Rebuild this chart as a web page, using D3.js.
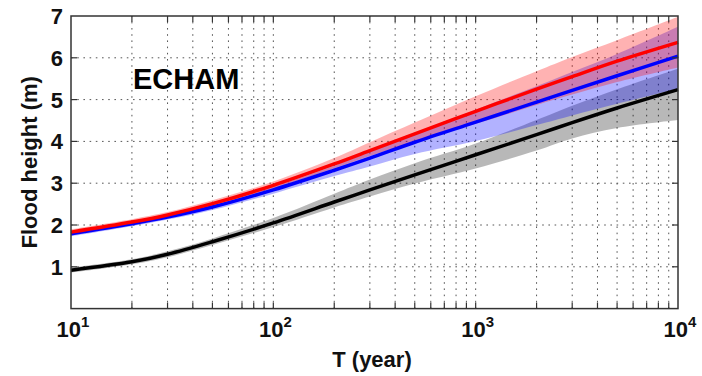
<!DOCTYPE html>
<html>
<head>
<meta charset="utf-8">
<script src="https://cdn.jsdelivr.net/npm/d3@7"></script>
<style>
  html, body { margin: 0; padding: 0; background: #fff; }
  svg { display: block; font-family: "Liberation Sans", Arial, Helvetica, sans-serif; }
</style>
</head>
<body>
<svg id="chart" width="702" height="376"></svg>
<script>
// Return period (years) at which the curves are sampled
const returnPeriods = [10, 20, 30, 50, 100, 200, 300, 500, 1000, 2000, 3000, 5000, 10000];

// Flood height (m): median and uncertainty band for each series
const redMedian = [1.83, 2.07, 2.24, 2.51, 2.95, 3.46, 3.78, 4.18, 4.72, 5.25, 5.55, 5.92, 6.37];
const redLower  = [1.76, 2.00, 2.17, 2.44, 2.87, 3.36, 3.65, 4.00, 4.42, 4.87, 5.12, 5.42, 5.77];
const redUpper  = [1.90, 2.14, 2.31, 2.59, 3.04, 3.60, 3.98, 4.45, 5.08, 5.68, 6.02, 6.42, 6.98];

const blueMedian = [1.79, 2.03, 2.19, 2.43, 2.84, 3.31, 3.60, 3.98, 4.46, 4.94, 5.22, 5.57, 6.04];
const blueLower  = [1.73, 1.97, 2.13, 2.36, 2.75, 3.17, 3.40, 3.70, 4.01, 4.39, 4.62, 4.90, 5.26];
const blueUpper  = [1.85, 2.09, 2.25, 2.50, 2.92, 3.42, 3.75, 4.18, 4.76, 5.32, 5.66, 6.09, 6.74];

const blackMedian = [0.92, 1.12, 1.30, 1.60, 2.05, 2.55, 2.84, 3.20, 3.68, 4.16, 4.45, 4.80, 5.24];
const blackLower  = [0.86, 1.06, 1.23, 1.52, 1.95, 2.42, 2.68, 2.99, 3.35, 3.78, 4.07, 4.32, 4.51];
const blackUpper  = [0.98, 1.18, 1.37, 1.68, 2.17, 2.75, 3.09, 3.48, 3.95, 4.51, 4.85, 5.25, 5.74];

const yTicks = [1, 2, 3, 4, 5, 6, 7];
const xMajorTicks = [10, 100, 1000, 10000];
const xMinorTicks = [20, 30, 40, 50, 60, 70, 80, 90,
                     200, 300, 400, 500, 600, 700, 800, 900,
                     2000, 3000, 4000, 5000, 6000, 7000, 8000, 9000];
const panelLabel = "ECHAM";
const xTitle = "T (year)";
const yTitle = "Flood height (m)";

const svg = d3.select("#chart");
const L = 71, R = 678, T = 16, B = 308.6;

const x = d3.scaleLog().domain([10, 10000]).range([L, R]);
const y = d3.scaleLinear().domain([0, 7]).range([B, T]);
const smooth = d3.curveCatmullRom.alpha(0.5);

// Dotted grid
const grid = svg.append("g").attr("stroke", "#555").attr("stroke-width", 1)
  .attr("stroke-dasharray", "1.6,4.6").attr("fill", "none");
grid.selectAll("line.v").data(xMinorTicks.concat([100, 1000])).join("line")
  .attr("x1", d => x(d)).attr("x2", d => x(d)).attr("y1", B).attr("y2", T);
grid.selectAll("line.h").data(yTicks.filter(v => v < 7)).join("line")
  .attr("x1", L).attr("x2", R).attr("y1", d => y(d)).attr("y2", d => y(d));

// Uncertainty bands
function band(lower, upper) {
  return d3.area()
    .x((d, i) => x(returnPeriods[i]))
    .y0((d, i) => y(lower[i]))
    .y1((d, i) => y(upper[i]))
    .curve(smooth)(returnPeriods);
}
const plot = svg.append("g");
plot.append("path").attr("d", band(blackLower, blackUpper)).attr("fill", "#000").attr("fill-opacity", 0.28);
plot.append("path").attr("d", band(blueLower, blueUpper)).attr("fill", "#0000ff").attr("fill-opacity", 0.3);
plot.append("path").attr("d", band(redLower, redUpper)).attr("fill", "#ff0000").attr("fill-opacity", 0.3);

// Median curves
function curve(values) {
  return d3.line()
    .x((d, i) => x(returnPeriods[i]))
    .y((d, i) => y(values[i]))
    .curve(smooth)(returnPeriods);
}
[[blackMedian, "#000"], [blueMedian, "#0000ff"], [redMedian, "#ff0000"]].forEach(([vals, col]) => {
  plot.append("path").attr("d", curve(vals)).attr("fill", "none")
    .attr("stroke", col).attr("stroke-width", 3.5).attr("stroke-linejoin", "round");
});

// Axes box with inward ticks on all four sides
const tickLen = 6;
const axes = svg.append("g").attr("stroke", "#333").attr("stroke-width", 1.2);
axes.append("rect").attr("x", L).attr("y", T).attr("width", R - L).attr("height", B - T)
  .attr("fill", "none").attr("stroke-width", 1.5);
const xTickAll = xMinorTicks.concat([100, 1000]);
axes.selectAll("line.xb").data(xTickAll).join("line")
  .attr("x1", d => x(d)).attr("x2", d => x(d)).attr("y1", B).attr("y2", B - tickLen);
axes.selectAll("line.xt").data(xTickAll).join("line")
  .attr("x1", d => x(d)).attr("x2", d => x(d)).attr("y1", T).attr("y2", T + tickLen);
axes.selectAll("line.yl").data(yTicks.filter(v => v < 7)).join("line")
  .attr("x1", L).attr("x2", L + tickLen).attr("y1", d => y(d)).attr("y2", d => y(d));
axes.selectAll("line.yr").data(yTicks.filter(v => v < 7)).join("line")
  .attr("x1", R).attr("x2", R - tickLen).attr("y1", d => y(d)).attr("y2", d => y(d));

// Y tick labels
svg.append("g").selectAll("text").data(yTicks).join("text")
  .attr("x", L - 8).attr("y", d => y(d)).attr("dy", "0.36em")
  .attr("text-anchor", "end").attr("font-size", 22).attr("font-weight", "bold")
  .attr("fill", "#111").text(d => d);

// X tick labels as powers of ten
const xl = svg.append("g").selectAll("text").data(xMajorTicks).join("text")
  .attr("x", d => x(d) + 2).attr("y", 337)
  .attr("text-anchor", "middle").attr("font-size", 22).attr("font-weight", "bold").attr("fill", "#111");
xl.append("tspan").text("10");
xl.append("tspan").attr("dy", -10).attr("font-size", 15).text(d => Math.round(Math.log10(d)));

// Titles
svg.append("text").attr("x", 372).attr("y", 367).attr("text-anchor", "middle")
  .attr("font-size", 22).attr("font-weight", "bold").attr("fill", "#111").text(xTitle);
svg.append("text").attr("transform", `translate(37,${(T + B) / 2}) rotate(-90)`)
  .attr("text-anchor", "middle").attr("font-size", 22).attr("font-weight", "bold")
  .attr("fill", "#111").text(yTitle);

// Panel label
svg.append("text").attr("x", 133).attr("y", 89).attr("font-size", 29).attr("font-weight", "bold")
  .attr("fill", "#000").text(panelLabel);
</script>
</body>
</html>
